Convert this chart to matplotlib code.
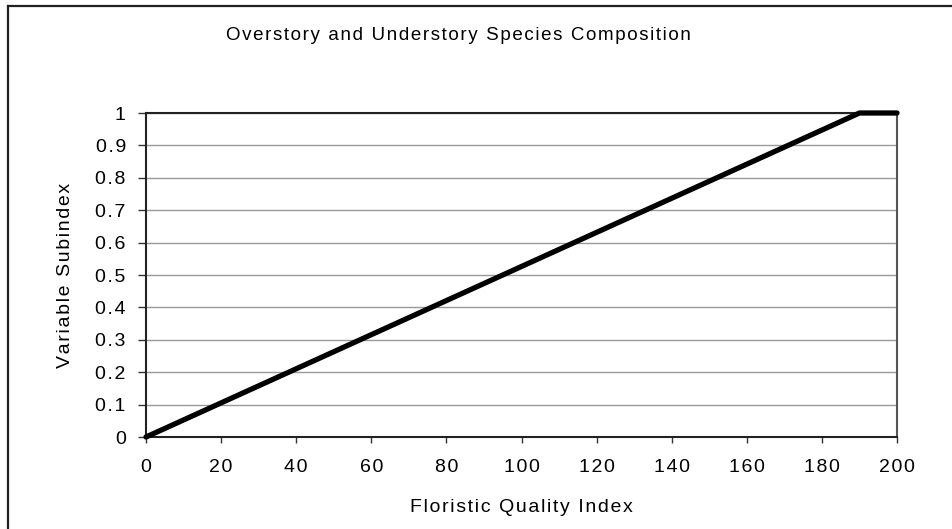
import matplotlib
matplotlib.use("Agg")
import matplotlib.pyplot as plt
from matplotlib.lines import Line2D

# Subindex curve: rises linearly to 1 at FQI 190, flat to 200
fqi = [0, 190, 200]
subindex = [0, 1, 1]

x_ticks = [0, 20, 40, 60, 80, 100, 120, 140, 160, 180, 200]
y_ticks = [0, 0.1, 0.2, 0.3, 0.4, 0.5, 0.6, 0.7, 0.8, 0.9, 1]
y_labels = ["0", "0.1", "0.2", "0.3", "0.4", "0.5", "0.6", "0.7", "0.8", "0.9", "1"]

title = "Overstory and Understory Species Composition"
x_title = "Floristic Quality Index"
y_title = "Variable Subindex"

plt.rcParams["font.family"] = ["Liberation Sans", "DejaVu Sans"]


def spaced(s):
    # loose letter spacing like the original export
    return "\u200a".join(s)


W, H = 952, 529
fig = plt.figure(figsize=(W / 100, H / 100), dpi=100)
ax = fig.add_axes([146 / W, 1 - 437 / H, 751 / W, 324 / H])

ax.plot(fqi, subindex, color="black", linewidth=3.8, solid_capstyle="round",
        solid_joinstyle="round", zorder=3, clip_on=False)

ax.set_xlim(0, 200)
ax.set_ylim(0, 1)
ax.set_xticks(x_ticks)
ax.set_xticklabels([spaced(str(t)) for t in x_ticks])
ax.set_yticks(y_ticks)
ax.set_yticklabels([spaced(t) for t in y_labels])
ax.tick_params(axis="both", direction="out", width=1, colors="#333333",
               labelsize=14, labelcolor="black")
ax.tick_params(axis="x", length=4.5, pad=11)
ax.tick_params(axis="y", length=6, pad=8.5)
ax.grid(True, axis="y", color="#999999", linewidth=1)
ax.set_axisbelow(True)

for side in ["top", "left", "bottom"]:
    ax.spines[side].set_color("#222222")
    ax.spines[side].set_linewidth(1.5)
ax.spines["right"].set_color("#555555")
ax.spines["right"].set_linewidth(1.5)

fig.text(521 / W, 1 - 508 / H, spaced(x_title), ha="center", va="center", fontsize=14)
fig.text(65 / W, 1 - 275 / H, spaced(y_title), ha="center", va="center",
         rotation=90, fontsize=14)
fig.text(458 / W, 1 - 35 / H, spaced(title), ha="center", va="center", fontsize=13.5)

# page frame: only top and left edges show in the crop
fig.add_artist(Line2D([7.5 / W, 1], [1 - 5.5 / H, 1 - 5.5 / H],
                      transform=fig.transFigure, color="#222222", linewidth=1.6))
fig.add_artist(Line2D([7.5 / W, 7.5 / W], [0, 1 - 5.5 / H],
                      transform=fig.transFigure, color="#222222", linewidth=1.6))

fig.savefig("out.png", dpi=100)
